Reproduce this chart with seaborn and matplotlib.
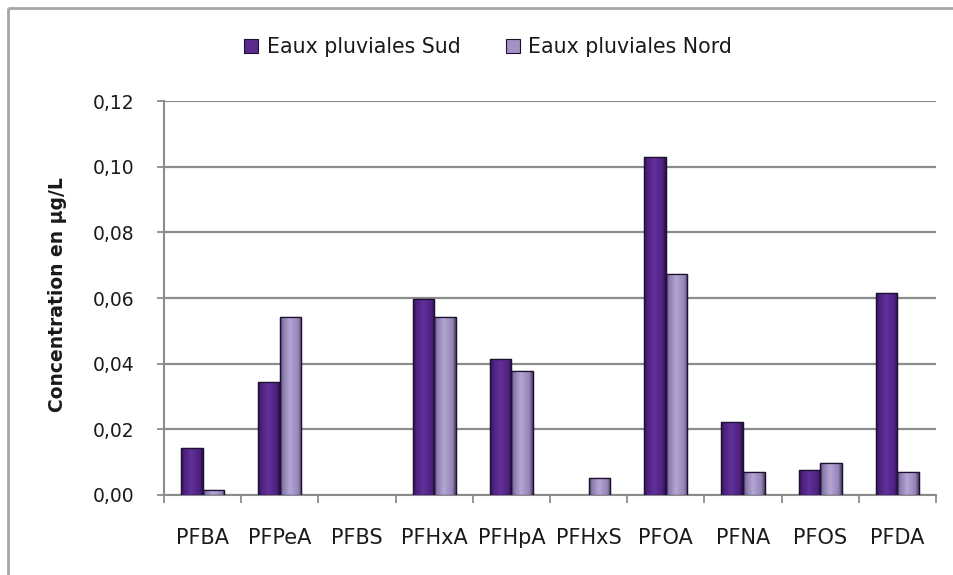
import numpy as np
import pandas as pd
import matplotlib
matplotlib.use("Agg")
import matplotlib.pyplot as plt
from matplotlib.patches import Rectangle, Patch
from matplotlib.lines import Line2D
from matplotlib.colors import LinearSegmentedColormap
from matplotlib.ticker import FuncFormatter, FixedLocator
import seaborn as sns

# PFAS concentrations in stormwater (µg/L)
compounds = ["PFBA", "PFPeA", "PFBS", "PFHxA", "PFHpA", "PFHxS", "PFOA", "PFNA", "PFOS", "PFDA"]
sud = [0.0144, 0.0345, np.nan, 0.0597, 0.0414, np.nan, 0.1030, 0.0223, 0.0076, 0.0616]
nord = [0.0015, 0.0543, np.nan, 0.0543, 0.0379, 0.0051, 0.0672, 0.0069, 0.0096, 0.0069]
series_names = ["Eaux pluviales Sud", "Eaux pluviales Nord"]
y_ticks = [0.00, 0.02, 0.04, 0.06, 0.08, 0.10, 0.12]

df = pd.DataFrame({
    "compound": compounds * 2,
    "value": sud + nord,
    "series": [series_names[0]] * len(compounds) + [series_names[1]] * len(compounds),
})

base_colors = {series_names[0]: "#5a2a8c", series_names[1]: "#a292c4"}
shades = {
    series_names[0]: ["#2e1050", "#4a1f7a", "#62309a", "#4e2280", "#2a0f48"],
    series_names[1]: ["#3e3058", "#8878ac", "#b4a6d4", "#9484b6", "#4a3c64"],
}

sns.set_theme(style="white")
plt.rcParams["font.family"] = ["DejaVu Sans"]

fig = plt.figure(figsize=(9.54, 5.75), dpi=100, facecolor="white", edgecolor="white")
ax = fig.add_axes([164 / 954, 1 - 495 / 575, (936 - 164) / 954, (495 - 101) / 575])

sns.barplot(data=df, x="compound", y="value", hue="series", order=compounds,
            hue_order=series_names, palette=base_colors, width=0.56, gap=0,
            edgecolor="#1e1030", linewidth=0.9, legend=False, ax=ax, zorder=3)

# shaded cylinder-like fill clipped to each bar
grad_x = np.linspace(0, 1, 64)[None, :]
for i, container in enumerate(ax.containers):
    cmap = LinearSegmentedColormap.from_list(
        f"shade{i}", list(zip([0, 0.12, 0.45, 0.85, 1.0], shades[series_names[i]])))
    for bar in container:
        h = bar.get_height()
        if not np.isfinite(h) or h <= 0:
            continue
        x0, w = bar.get_x(), bar.get_width()
        im = ax.imshow(grad_x, cmap=cmap, aspect="auto", extent=(x0, x0 + w, 0, h),
                       origin="lower", zorder=3.5, interpolation="bilinear")
        im.set_clip_path(bar)
        ax.add_patch(Rectangle((x0, 0), w, h, fill=False, edgecolor="#1e1030",
                               linewidth=0.9, zorder=4))

ax.set_xlim(-0.5, len(compounds) - 0.5)
ax.set_ylim(0, 0.12)
ax.set_yticks(y_ticks)
ax.yaxis.set_major_formatter(FuncFormatter(lambda v, p: f"{v:.2f}".replace(".", ",")))

# category boundaries carry the tick marks, centres carry the labels
ax.xaxis.set_major_locator(FixedLocator(np.arange(-0.5, len(compounds), 1.0)))
ax.xaxis.set_minor_locator(FixedLocator(np.arange(len(compounds))))
ax.set_xticklabels([])
ax.set_xticklabels(compounds, minor=True)
ax.tick_params(axis="x", which="major", length=6, width=1.3, color="#8c8c8c", direction="out", bottom=True)
ax.tick_params(axis="x", which="minor", length=0, pad=24, labelsize=15, labelcolor="#1a1a1a")
ax.tick_params(axis="y", length=5, width=1.3, color="#8c8c8c", direction="out", left=True,
               pad=16, labelsize=13.5, labelcolor="#1a1a1a")

ax.grid(axis="y", color="#8c8c8c", linewidth=1.6, zorder=0)
ax.set_axisbelow(True)
for side in ["top", "right"]:
    ax.spines[side].set_visible(False)
for side in ["left", "bottom"]:
    ax.spines[side].set_color("#8c8c8c")
    ax.spines[side].set_linewidth(1.5)

ax.set_xlabel("")
ax.set_ylabel("")
fig.text(58 / 954, 1 - 295 / 575, "Concentration en µg/L", rotation=90, ha="center", va="center",
         fontsize=13.5, fontweight="bold", color="#1a1a1a")

handles = [Patch(facecolor=base_colors[s], edgecolor="#1e1030", linewidth=0.8) for s in series_names]
fig.legend(handles, series_names, loc="center", bbox_to_anchor=(488 / 954, 1 - 47 / 575),
           ncol=2, frameon=False, fontsize=14.8, handlelength=0.7, handleheight=0.7,
           handletextpad=0.4, columnspacing=2.2, labelcolor="#1a1a1a")

# outer chart frame (top and left edges only)
frame_x, frame_y = 8 / 954, 1 - 8 / 575
fig.add_artist(Line2D([frame_x, 1.05], [frame_y, frame_y], transform=fig.transFigure,
                      color="#a6a6a6", linewidth=2, solid_capstyle="butt"))
fig.add_artist(Line2D([frame_x, frame_x], [-0.05, frame_y], transform=fig.transFigure,
                      color="#a6a6a6", linewidth=2, solid_capstyle="butt"))

fig.savefig("out.png", dpi=100, facecolor="white", edgecolor="white")
